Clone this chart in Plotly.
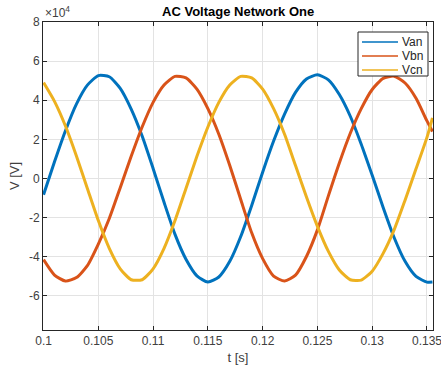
import plotly.graph_objects as go

# Sample times [s]
t = [0.100, 0.101, 0.102, 0.103, 0.104, 0.105, 0.106, 0.107, 0.108, 0.109,
     0.110, 0.111, 0.112, 0.113, 0.114, 0.115, 0.116, 0.117, 0.118, 0.119,
     0.120, 0.121, 0.122, 0.123, 0.124, 0.125, 0.126, 0.127, 0.128, 0.129,
     0.130, 0.131, 0.132, 0.133, 0.134, 0.135, 0.1355]

# Phase voltages [V], in units of 1e4
van = [-0.83, 0.85, 2.44, 3.80, 4.77, 5.26, 5.20, 4.61, 3.55, 2.17,
       0.51, -1.22, -2.86, -4.13, -4.98, -5.30, -5.04, -4.24, -2.97, -1.38,
       0.32, 1.91, 3.29, 4.40, 5.09, 5.30, 5.04, 4.29, 3.18, 1.75,
       0.16, -1.48, -3.02, -4.24, -5.01, -5.30, -5.30]
vbn = [-4.15, -4.94, -5.25, -5.07, -4.46, -3.36, -2.05, -0.47, 1.13, 2.63,
       3.89, 4.78, 5.22, 5.14, 4.57, 3.57, 2.26, 0.66, -1.08, -2.78,
       -4.10, -4.99, -5.25, -4.94, -3.99, -2.63, -0.89, 0.79, 2.31, 3.57,
       4.55, 5.12, 5.23, 4.88, 4.10, 2.94, 2.40]
vcn = [4.90, 3.94, 2.68, 1.15, -0.51, -2.15, -3.57, -4.62, -5.18, -5.18,
       -4.62, -3.57, -2.15, -0.51, 1.13, 2.63, 3.89, 4.78, 5.22, 5.14,
       4.57, 3.57, 2.26, 0.66, -0.95, -2.45, -3.73, -4.68, -5.18, -5.20,
       -4.74, -3.83, -2.63, -1.11, 0.49, 2.10, 3.10]

scale = 1e4
x_ticks = [0.1, 0.105, 0.11, 0.115, 0.12, 0.125, 0.13, 0.135]
x_tick_labels = ["0.1", "0.105", "0.11", "0.115", "0.12", "0.125", "0.13", "0.135"]
y_ticks = [-6, -4, -2, 0, 2, 4, 6, 8]
y_tick_labels = ["-6", "-4", "-2", "0", "2", "4", "6", "8"]

series = [("Van", van, "#0072BD"), ("Vbn", vbn, "#D95319"), ("Vcn", vcn, "#EDB120")]

W, H = 441, 373
M = dict(l=43, r=8, t=22, b=43)
pw = W - M["l"] - M["r"]
ph = H - M["t"] - M["b"]


def px(xpix):
    return (xpix - M["l"]) / pw


def py(ypix):
    return (H - M["b"] - ypix) / ph


fig = go.Figure()
for name, vals, color in series:
    fig.add_trace(go.Scatter(
        x=t, y=[v * scale for v in vals], mode="lines", name=name,
        line=dict(color=color, width=3, shape="spline", smoothing=0.6),
        showlegend=False,
    ))

axis_color = "#262626"
tick_color = "#404040"
grid_color = "#e3e3e3"
font = dict(family="Liberation Sans, Arial, sans-serif", size=12, color=tick_color)

fig.update_layout(
    width=W, height=H,
    margin=M,
    paper_bgcolor="white", plot_bgcolor="white",
    font=font,
    title=dict(text="<b>AC Voltage Network One</b>", x=0.54, xanchor="center",
               y=0.968, yanchor="middle", font=dict(size=13, color="black")),
    showlegend=False,
)

fig.update_xaxes(
    range=[0.09995, 0.13555], tickvals=x_ticks, ticktext=x_tick_labels,
    showgrid=True, gridcolor=grid_color, gridwidth=1, zeroline=False,
    showline=True, linecolor=axis_color, linewidth=1, mirror="ticks",
    ticks="inside", ticklen=4, tickcolor=axis_color,
    tickfont=dict(size=12, color=tick_color), ticklabeloverflow="allow",
    automargin=False,
    title=dict(text="t [s]", standoff=5, font=dict(size=13, color=tick_color)),
)
fig.update_yaxes(
    range=[-7.75e4, 8e4], tickvals=[v * scale for v in y_ticks], ticktext=y_tick_labels,
    showgrid=True, gridcolor=grid_color, gridwidth=1, zeroline=False,
    showline=True, linecolor=axis_color, linewidth=1, mirror="ticks",
    ticks="inside", ticklen=4, tickcolor=axis_color,
    tickfont=dict(size=12, color=tick_color), ticklabeloverflow="allow",
    automargin=False,
    title=dict(text="V [V]", standoff=6, font=dict(size=13, color=tick_color)),
)

# Exponent label for the y axis
fig.add_annotation(
    text="×10<sup>4</sup>", xref="paper", yref="paper", x=0.0, y=1.0,
    xanchor="left", yanchor="bottom", showarrow=False, yshift=0,
    font=dict(size=12, color=tick_color),
)

# Legend box drawn in the upper-right corner of the axes
box_l, box_r, box_t, box_b = 358, 428, 32, 76
fig.add_shape(type="rect", xref="paper", yref="paper",
              x0=px(box_l), x1=px(box_r), y0=py(box_b), y1=py(box_t),
              line=dict(color=axis_color, width=1), fillcolor="white", layer="above")
row_y = [42, 56, 70]
for (name, _, color), ry in zip(series, row_y):
    fig.add_shape(type="line", xref="paper", yref="paper",
                  x0=px(362), x1=px(398), y0=py(ry), y1=py(ry),
                  line=dict(color=color, width=1.5), layer="above")
    fig.add_annotation(text=name, xref="paper", yref="paper",
                       x=px(400), y=py(ry), xanchor="left", yanchor="middle",
                       showarrow=False, font=dict(size=12, color=axis_color))

fig.write_html("out.html")
